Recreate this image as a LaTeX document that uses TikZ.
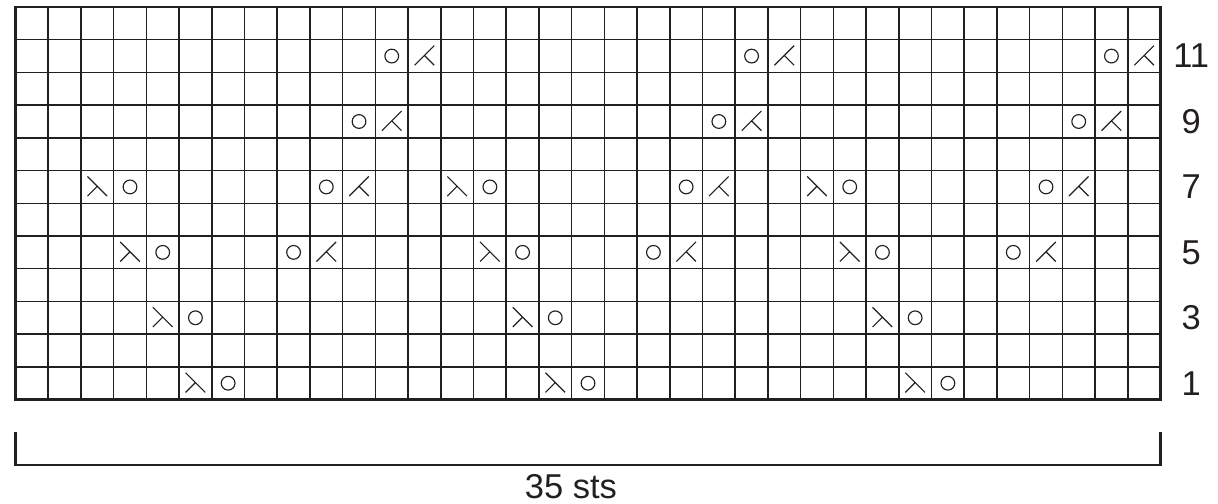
\documentclass[tikz,border=0pt]{standalone}
\usepackage{fontspec}
\setmainfont{Liberation Sans}
\usepackage{xcolor}
\definecolor{ink}{HTML}{231F20}
\usetikzlibrary{positioning}

\begin{document}
\begin{tikzpicture}[
  gridline/.style={draw=ink, line width=1.3pt},
  frame/.style={draw=ink, line width=2.6pt},
  sym/.style={draw=ink, line width=1pt},
  lab/.style={font=\fontsize{30}{36}\selectfont, text=ink, inner sep=0pt},
  yo/.pic={\draw[sym] (0.5,0.5) circle (0.21);},
  ssk/.pic={\draw[sym] (0.2,0.82) -- (0.8,0.22) (0.5,0.52) -- (0.2,0.22);},
  ktog/.pic={\draw[sym] (0.8,0.82) -- (0.2,0.22) (0.5,0.52) -- (0.8,0.22);}
]
\useasboundingbox (-0.474,-3.18) rectangle (36.758,12.214);

% chart
\draw[gridline] (0,0) grid (35,12);
\draw[frame] (0,0) rectangle (35,12);

% decreases then yarn overs, repeat of 11 sts
\foreach \r/\c in {0/5,2/4,4/3,6/2}
  \foreach \k in {0,11,22} {
    \pic at ({\c+\k},\r) {ssk};
    \pic at ({\c+\k+1},\r) {yo};
  }
\foreach \r/\c in {4/8,6/9,8/10,10/11}
  \foreach \k in {0,11,22} {
    \pic at ({\c+\k},\r) {yo};
    \pic at ({\c+\k+1},\r) {ktog};
  }

% row numbers
\foreach \n in {1,3,...,11}
  \node[lab] (row\n) at (35.94,\n-0.5) {\n};

% width bracket
\coordinate (bl) at (0,-1);
\coordinate (br) at (35,-1);
\draw[frame] (bl) -- ++(0,-1) -| (br);
\node[lab] (width) at (16.98,-2.65) {35 sts};
\end{tikzpicture}
\end{document}
